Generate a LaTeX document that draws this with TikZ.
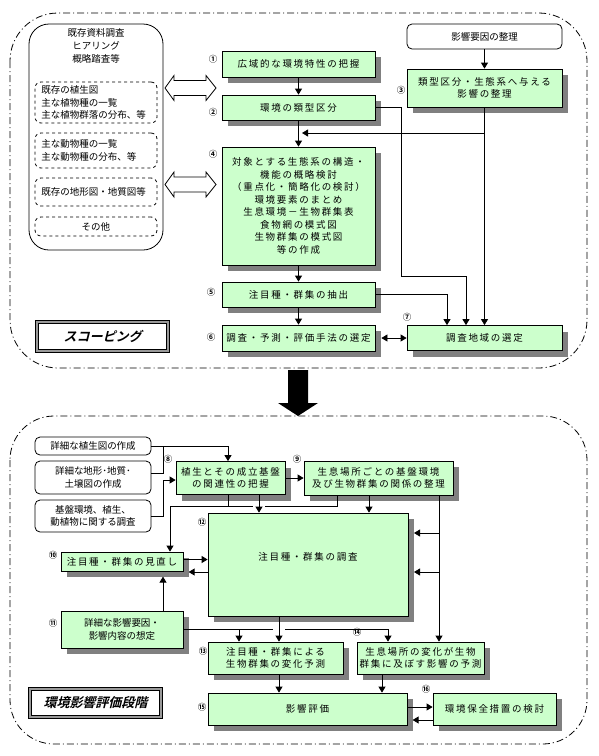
\documentclass[tikz,border=0pt]{standalone}
\usepackage{fontspec}
\newfontfamily\jp{Noto Sans CJK JP}
\newfontfamily\jpw[LetterSpace=18]{Noto Sans CJK JP}
\newfontfamily\jpb{Noto Sans CJK JP Bold}
\newfontfamily\jpt[FakeSlant=0.25]{Noto Sans CJK JP Bold}
\usetikzlibrary{arrows.meta,shadows}
\pgfdeclarelayer{bg}
\pgfsetlayers{bg,main}
\definecolor{mint}{HTML}{CCFFCC}
\definecolor{shade}{HTML}{808080}
\tikzset{
  every node/.style={inner sep=0pt},
  sz/.style 2 args={minimum width=#1pt,minimum height=#2pt},
  gbox/.style={draw,fill=mint,line width=0.8pt,align=center,
    font=\jpw\fontsize{9.5pt}{12.5pt}\selectfont,
    drop shadow={shadow xshift=6pt,shadow yshift=-6pt,fill=shade,opacity=1}},
  wbox/.style={draw,fill=white,line width=0.8pt,rounded corners=5pt,align=center,
    font=\jp\fontsize{9.5pt}{12.5pt}\selectfont},
  dbox/.style={draw,dashed,line width=0.8pt,rounded corners=6pt,align=left,
    text width=109pt,font=\jp\fontsize{9.5pt}{12.5pt}\selectfont},
  num/.style={font=\jpb\fontsize{8.5pt}{8.5pt}\selectfont},
  ttl/.style={draw,line width=0.9pt,double=gray!80,double distance=2.5pt,
    fill=white,font=\jpt\fontsize{13pt}{13pt}\selectfont},
  zone/.style={line width=0.8pt,dash pattern=on 7pt off 3pt on 1pt off 3pt},
  hollow/.style={draw,fill=white,line width=0.8pt},
  ln/.style={line width=0.8pt},
  arr/.style={ln,-{Triangle[width=7pt,length=6pt]}},
  arrs/.style={ln,{Triangle[width=7pt,length=6pt]}-{Triangle[width=7pt,length=6pt]}}
}

\begin{document}
\begin{tikzpicture}[x=1pt,y=-1pt]
\useasboundingbox (0,0) rectangle (599,756);
\begin{pgfonlayer}{bg}
  \draw[zone,rounded corners=48pt] (10,13) rectangle (587,368);
  \draw[zone,rounded corners=44pt] (10,416) rectangle (587,744);
\end{pgfonlayer}

% scoping
\node[draw,line width=0.8pt,rounded corners=20pt,sz={134}{226}] (src) at (96,137) {};
\node[font=\jp\fontsize{9.5pt}{13pt}\selectfont,align=center] (srct) at (96,46)
  {既存資料調査\\ヒアリング\\概略踏査等};
\node[dbox,sz={122}{41}] (veg) at (96,102.5) {既存の植生図\\主な植物種の一覧\\主な植物群落の分布、等};
\node[dbox,sz={122}{35}] (ani) at (96,150.5) {主な動物種の一覧\\主な動物種の分布、等};
\node[dbox,sz={122}{28}] (geo) at (96,192) {既存の地形図・地質図等};
\node[dbox,align=center,sz={122}{19}] (oth) at (96,226.5) {その他};

\draw[hollow] (165,88) -- (174,75.5) -- (174,80.5) -- (206,80.5) -- (206,75.5) -- (216,88)
  -- (206,100.5) -- (206,95.5) -- (174,95.5) -- (174,100.5) -- cycle;
\draw[hollow] (165,184.5) -- (174,172) -- (174,177) -- (206,177) -- (206,172) -- (216,184.5)
  -- (206,197) -- (206,192) -- (174,192) -- (174,197) -- cycle;

\node[gbox,sz={153}{26}] (b1) at (298.5,64) {広域的な環境特性の把握};
\node[gbox,sz={153}{25}] (b2) at (298.5,107.5) {環境の類型区分};
\node[wbox,sz={155}{25}] (fac) at (484.5,36.5) {影響要因の整理};
\node[gbox,sz={155}{38}] (b3) at (484.5,88) {類型区分・生態系へ与える\\影響の整理};
\node[gbox,sz={153}{118}] (b4) at (298.5,206) {対象とする生態系の構造・\\機能の概略検討\\（重点化・簡略化の検討）\\環境要素のまとめ\\生息環境－生物群集表\\食物網の模式図\\生物群集の模式図\\等の作成};
\node[gbox,sz={153}{25}] (b5) at (298.5,294.5) {注目種・群集の抽出};
\node[gbox,sz={153}{26}] (b6) at (298.5,338) {調査・予測・評価手法の選定};
\node[gbox,sz={155}{25}] (b7) at (484.5,338) {調査地域の選定};

\node[num] (n1) at (213,59) {①};
\node[num] (n2) at (213,112) {②};
\node[num] (n3) at (401,90) {③};
\node[num] (n4) at (213,154) {④};
\node[num] (n5) at (211,292) {⑤};
\node[num] (n6) at (211,337) {⑥};
\node[num] (n7) at (407,317) {⑦};

\coordinate (j1) at (484.5,133);
\coordinate (j2) at (302,133);
\coordinate (k1) at (401,276);
\draw[arr] (b1) -- (b2);
\draw[arr] (b2) -- (b4);
\draw[arr] (b4) -- (b5);
\draw[arr] (b5) -- (b6);
\draw[arr] (fac) -- (b3);
\draw[arr] (b3.south) -- (b7.north);
\draw[arr] (j1) -- (j2);
\draw[arr] (b2.east) -| (k1) -| ([xshift=-18.5pt]b7.north);
\draw[arr] (b5.east) -| ([xshift=-37.5pt]b7.north);
\draw[arrs] ([xshift=6pt]b6.east) -- (b7.west);

\node[ttl,sz={131}{29}] (scp) at (102.5,336.5) {スコーピング};

\fill (288,370) -- (308,370) -- (308,403) -- (318,403) -- (298,416) -- (278,403) -- (288,403) -- cycle;

% assessment
\node[wbox,sz={116}{18}] (A) at (93,446) {詳細な植生図の作成};
\node[wbox,sz={116}{33}] (B) at (93,477.5) {詳細な地形･地質･\\土壌図の作成};
\node[wbox,sz={116}{32}] (C) at (93,516) {基盤環境、植生、\\動植物に関する調査};
\node[gbox,sz={109}{33}] (b8) at (230.5,478) {植生とその成立基盤\\の関連性の把握};
\node[gbox,sz={149}{34}] (b9) at (378.5,478) {生息場所ごとの基盤環境\\及び生物群集の関係の整理};
\node[gbox,sz={200}{103},text depth=16pt] (b12) at (308,564.5) {注目種・群集の調査};
\node[gbox,sz={122}{19}] (b10) at (122,561.5) {注目種・群集の見直し};
\node[gbox,sz={122}{37},font=\jp\fontsize{9.5pt}{12.5pt}\selectfont] (b11) at (122,629.5) {詳細な影響要因・\\影響内容の想定};
\node[gbox,sz={135}{32}] (b13) at (275.5,658) {注目種・群集による\\生物群集の変化予測};
\node[gbox,sz={127}{32}] (b14) at (420.5,658) {生息場所の変化が生物\\群集に及ぼす影響の予測};
\node[gbox,sz={199}{32}] (b15) at (307.5,709) {影響評価};
\node[gbox,sz={123}{32}] (b16) at (494.5,709) {環境保全措置の検討};

\node[num] (n8) at (168,459) {⑧};
\node[num] (n9) at (297,459) {⑨};
\node[num] (n10) at (53,555) {⑩};
\node[num] (n11) at (53,623) {⑪};
\node[num] (n12) at (202,522) {⑫};
\node[num] (n13) at (203,651) {⑬};
\node[num] (n14) at (357,632) {⑭};
\node[num] (n15) at (202,707) {⑮};
\node[num] (n16) at (426,689) {⑯};

\coordinate (a1) at (163,446);
\coordinate (h1) at (170,506);
\coordinate (r1) at (439,533);
\coordinate (r2) at (439,572);
\draw[arr] (A.east) -| ([xshift=-2.5pt]b8.north);
\draw[ln] ([yshift=4.5pt]B.east) -| (a1);
\draw[arr] (C.east) -- ++(12,0) |- ([yshift=-2pt]b8.west);
\draw[arr] (b8) -- (b9);
\draw[arr] ([xshift=-41.5pt]b9.south) |- (h1) -- (h1 |- b10.north);
\draw[ln] ([xshift=-2.5pt]b8.south) -- ([xshift=-2.5pt]b8.south |- h1);
\fill[white] (253,504.5) rectangle (265,507.5);
\draw[arr] ([xshift=28.5pt]b8.south) -- ([xshift=28.5pt]b8.south |- b12.north);
\draw[arr] ([xshift=-9.5pt]b9.south) -- ([xshift=-9.5pt]b9.south |- b12.north);
\draw[arr] ([xshift=60.5pt]b9.south) -- ([xshift=60.5pt]b9.south |- b14.north);
\draw[arr] (r1) -- ++(-25,0);
\draw[arr] (r2) -- ++(-25,0);
\draw[arr] ([yshift=2pt]b10.east) -- ([yshift=2pt]b10.east -| b12.west);
\draw[arr] ([yshift=-7.5pt]b12.west) -- ++(-19,0);
\draw[arr] ([xshift=41pt]b11.north) -- ++(0,-34);
\draw[arr] (b11.east) -| ([xshift=-32.5pt]b14.north);
\draw[arr] ([xshift=-36.5pt]b13.north |- b11.east) -- ([xshift=-36.5pt]b13.north);
\fill[white] (273,628) rectangle (285,631);
\draw[arr] ([xshift=-29pt]b12.south) -- ([xshift=-29pt]b12.south |- b13.north);
\draw[arr] ([xshift=3.5pt]b13.south) -- ([xshift=3.5pt]b13.south |- b15.north);
\draw[arr] ([xshift=-38.5pt]b14.south) -- ([xshift=-38.5pt]b14.south |- b15.north);
\draw[arr] ([yshift=2pt]b15.east) -- ([yshift=2pt]b15.east -| b16.west);
\draw[arr] ([yshift=-11pt]b16.west) -- ++(-20,0);

\node[ttl,sz={131}{28}] (eia) at (95.5,703) {環境影響評価段階};
\end{tikzpicture}
\end{document}
